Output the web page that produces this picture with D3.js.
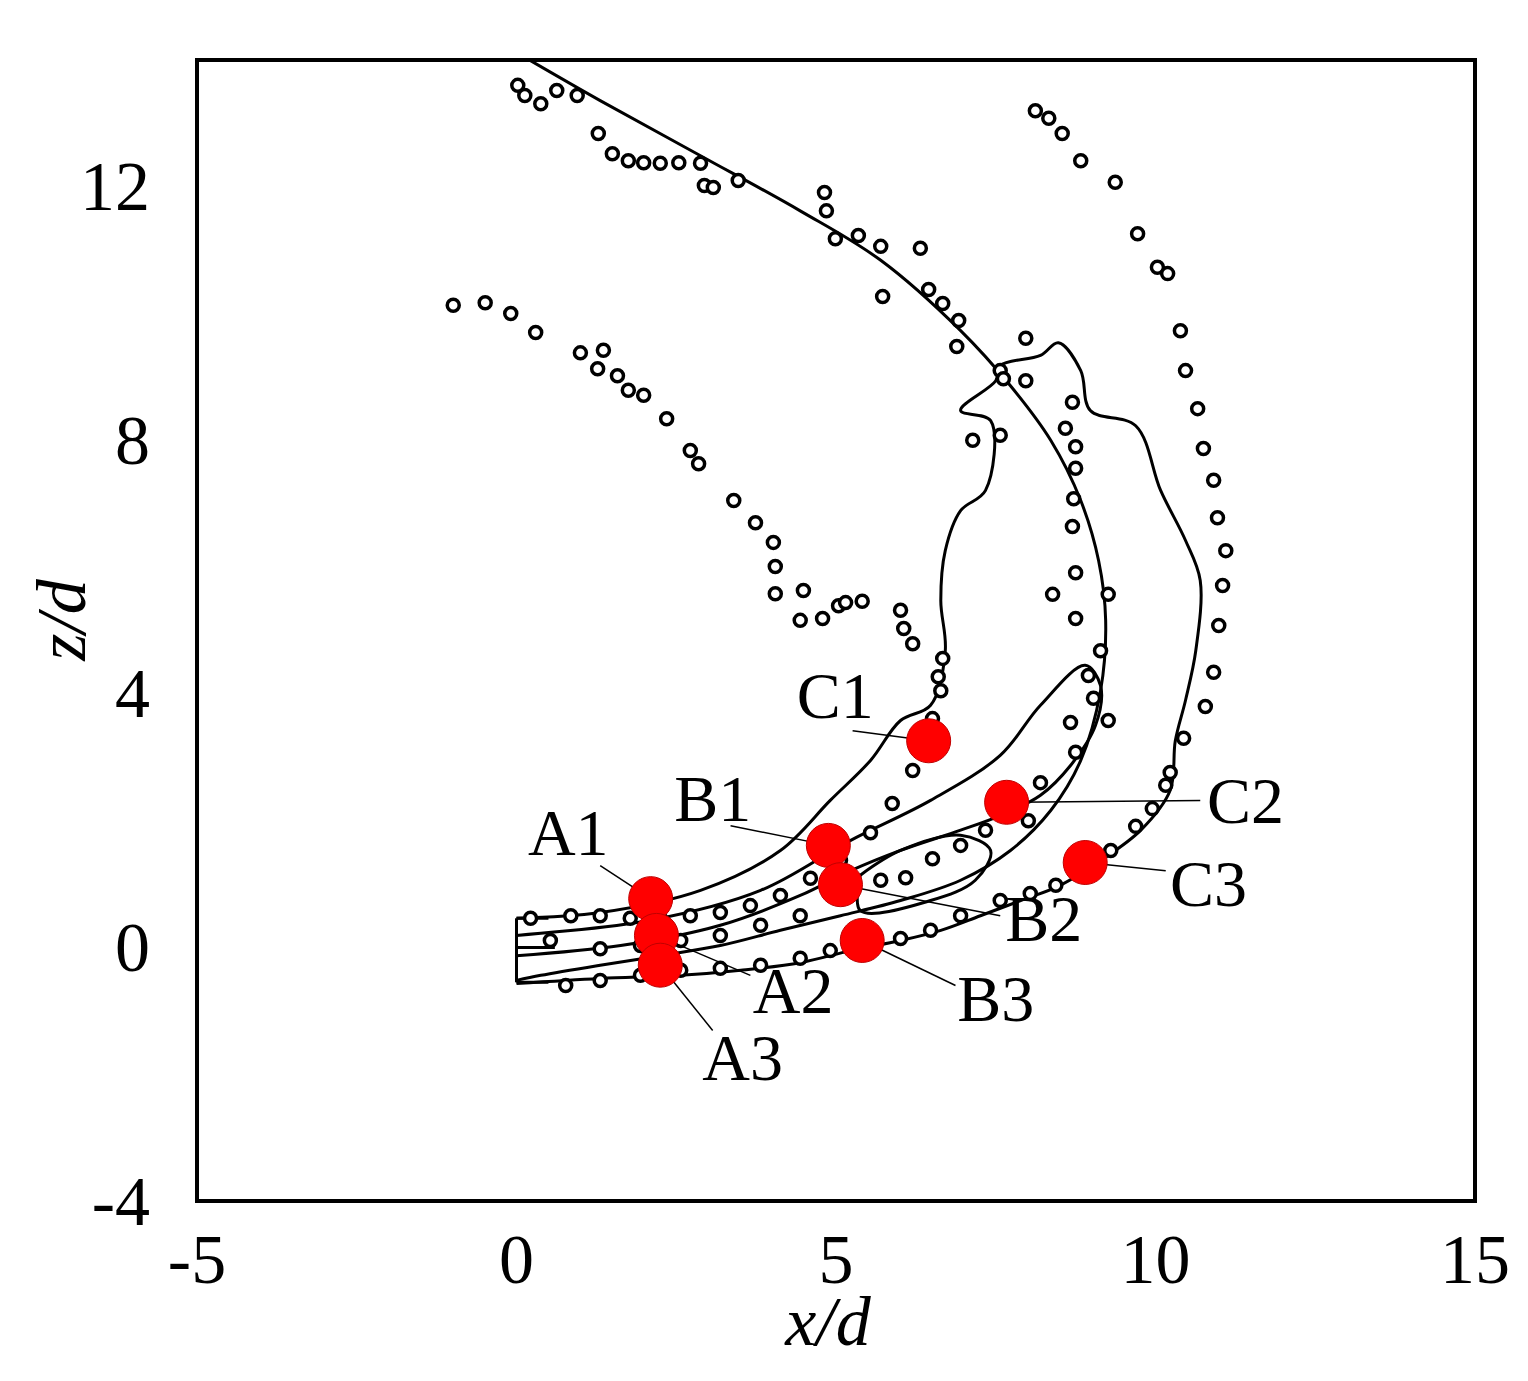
<!DOCTYPE html>
<html><head><meta charset="utf-8">
<script src="https://cdn.jsdelivr.net/npm/d3@7"></script>
<style>
body{margin:0;background:#fff;}
text{font-family:'Liberation Serif','Times New Roman',serif;fill:#000;}
</style></head>
<body><div id="vis"></div>
<script>
const xTicks = [-5, 0, 5, 10, 15];
const yTicks = [-4, 0, 4, 8, 12];

// measured points (open circles)
const scatterUpper = [[0.02,13.6],[0.13,13.44],[0.38,13.31],[0.63,13.52],[0.95,13.44],[1.28,12.84],[1.5,12.52],[1.75,12.41],[1.99,12.38],[2.25,12.37],[2.54,12.38],[2.88,12.37],[2.94,12.02],[3.08,11.99],[3.47,12.1],[4.82,11.91],[4.85,11.62],[4.99,11.18],[5.35,11.23],[5.7,11.06],[6.32,11.03],[5.73,10.27],[6.45,10.38],[6.67,10.16],[6.92,9.89],[6.89,9.48],[7.57,9.1],[7.62,8.97],[7.97,9.61],[7.97,8.94],[7.14,8.0],[7.57,8.08],[8.59,8.19],[8.7,8.6],[8.75,7.9],[8.75,7.56],[8.72,7.08],[8.7,6.64],[8.75,5.91],[8.75,5.19],[8.39,5.57],[9.26,5.57],[9.14,4.68],[8.95,4.29],[9.03,3.93],[9.26,3.58],[8.75,3.08],[8.67,3.55],[8.2,2.6],[8.01,2.0],[7.34,1.85],[6.95,1.61],[6.51,1.4],[6.09,1.1],[5.7,1.06],[5.07,0.82],[4.44,0.5],[3.82,0.35],[3.19,0.19],[2.57,0.11],[1.94,0.03],[1.31,-0.02],[0.53,0.11]];
const scatterLeft = [[-0.99,10.13],[-0.49,10.17],[-0.09,10.0],[0.3,9.7],[1.0,9.38],[1.36,9.42],[1.27,9.13],[1.58,9.02],[1.75,8.79],[1.99,8.71],[2.35,8.34],[2.72,7.84],[2.85,7.63],[3.4,7.05],[3.74,6.7],[4.02,6.39],[4.05,6.01],[4.05,5.58],[4.49,5.63],[4.44,5.16],[4.79,5.19],[5.04,5.39],[5.15,5.44],[5.41,5.46],[6.01,5.32],[6.06,5.03],[6.2,4.79],[6.67,4.56],[6.6,4.27],[6.64,4.05],[6.51,3.61],[6.29,3.23],[6.2,2.79],[5.88,2.27],[5.54,1.81],[5.07,1.37],[4.6,1.09],[4.13,0.82],[3.66,0.66],[3.19,0.55],[2.72,0.5],[2.25,0.46],[1.78,0.46],[1.31,0.5],[0.85,0.5],[0.22,0.46]];
const scatterRight = [[8.12,13.2],[8.33,13.08],[8.54,12.84],[8.83,12.41],[9.37,12.07],[9.72,11.26],[10.03,10.73],[10.19,10.63],[10.39,9.73],[10.47,9.1],[10.66,8.5],[10.75,7.87],[10.91,7.37],[10.97,6.78],[11.1,6.26],[11.05,5.71],[10.99,5.08],[10.91,4.34],[10.78,3.8],[10.44,3.3],[10.23,2.76],[10.16,2.56],[9.95,2.19],[9.69,1.91],[9.3,1.53],[8.83,1.21],[8.44,0.98],[8.04,0.85],[7.57,0.74],[6.95,0.5],[6.48,0.27],[6.01,0.14],[5.54,-0.02],[4.91,-0.05],[4.44,-0.17],[3.82,-0.28],[3.19,-0.33],[2.57,-0.36],[1.94,-0.44],[1.31,-0.52],[0.77,-0.6]];

// computed contours / trajectories (solid lines)
const lineArc = [[0.22,13.99],[1.31,13.36],[2.88,12.49],[4.44,11.62],[5.7,10.84],[6.95,9.73],[7.73,8.86],[8.36,8.0],[8.83,7.05],[9.11,6.1],[9.22,5.16],[9.14,4.05],[8.83,2.95],[8.36,2.16],[7.73,1.53],[6.95,1.06],[6.01,0.74],[5.07,0.5],[4.13,0.27],[3.19,0.03],[2.25,-0.13],[1.31,-0.28],[0.38,-0.44],[0,-0.52]];
const lineOuter = [[0,0.46],[1.31,0.55],[2.88,0.9],[4.13,1.53],[4.91,2.32],[5.54,2.95],[6.01,3.58],[6.48,3.82],[6.71,4.68],[6.64,5.47],[6.71,6.26],[6.95,6.89],[7.34,7.21],[7.42,8.31],[6.95,8.47],[7.5,8.94],[7.57,9.18],[8.2,9.34],[8.48,9.54],[8.83,9.1],[8.98,8.47],[9.69,8.23],[10.08,7.21],[10.47,6.42],[10.7,5.79],[10.63,4.68],[10.47,3.9],[10.31,3.26],[10.23,2.48],[9.77,1.85],[9.14,1.37],[8.51,0.98],[7.89,0.74],[7.26,0.5],[6.64,0.27],[6.01,0.11],[5.23,-0.05],[4.44,-0.24],[3.51,-0.36],[2.57,-0.44],[1.31,-0.49],[0,-0.57]];
const lineInner = [[0,0.19],[2.1,0.43],[3.82,0.9],[5.23,1.69],[6.48,2.32],[7.57,3.03],[8.2,3.82],[8.9,4.45],[9.14,4.13],[9.06,3.5],[8.67,2.87],[8.2,2.4],[7.57,2.08],[6.95,1.85],[6.01,1.53],[5.23,1.21],[4.44,0.82],[3.19,0.35],[1.63,0.03],[0,-0.13]];
const lineLoop = [[5.38,1.14],[6.01,1.53],[6.95,1.77],[7.42,1.53],[7.18,1.06],[6.48,0.74],[5.38,0.58],[5.38,1.14]];
const nozzle = [[[0,0.46],[0,-0.55]],[[0,0.0],[0.6,0.0]],[[0,0.46],[0.5,0.46]],[[0,-0.55],[0.5,-0.55]]];

// labelled points: name, point, label centre, leader end
const probeNames = ["A1","A2","A3","B1","B2","B3","C1","C2","C3"];
const probePts = [[2.1,0.77],[2.19,0.19],[2.25,-0.28],[4.88,1.61],[5.07,0.99],[5.41,0.11],[6.45,3.26],[7.67,2.29],[8.9,1.34]];
const probeLabels = [[0.81,1.81],[4.33,-0.68],[3.54,-1.73],[3.07,2.35],[8.25,0.46],[7.5,-0.8],[4.99,3.97],[11.41,2.32],[10.83,1.01]];
const probeLeaders = [[1.31,1.29],[3.66,-0.44],[3.07,-1.31],[3.35,1.92],[7.57,0.5],[6.87,-0.6],[5.26,3.42],[10.7,2.32],[10.16,1.21]];

const W = 1528, H = 1381;
const svg = d3.select("#vis").append("svg").attr("width", W).attr("height", H);
const x = d3.scaleLinear().domain([-5, 15]).range([197, 1475]);
const y = d3.scaleLinear().domain([-4, 14]).range([1201, 60]);

svg.append("defs").append("clipPath").attr("id", "clip")
    .append("rect").attr("x", 197).attr("y", 60).attr("width", 1278).attr("height", 1141);
const g = svg.append("g").attr("clip-path", "url(#clip)");

const line = d3.line().x(d => x(d[0])).y(d => y(d[1])).curve(d3.curveCatmullRom);
[lineArc, lineOuter, lineInner, lineLoop].forEach(l => {
    g.append("path").attr("d", line(l)).attr("fill", "none").attr("stroke", "#000").attr("stroke-width", 3);
});
nozzle.forEach(l => {
    g.append("path").attr("d", d3.line().x(d => x(d[0])).y(d => y(d[1]))(l))
        .attr("stroke", "#000").attr("stroke-width", 3);
});

[scatterUpper, scatterLeft, scatterRight].forEach(s => {
    g.selectAll(null).data(s).join("circle")
        .attr("cx", d => x(d[0])).attr("cy", d => y(d[1])).attr("r", 6)
        .attr("fill", "#fff").attr("stroke", "#000").attr("stroke-width", 3.5);
});

// leaders
g.selectAll(null).data(probePts).join("line")
    .attr("x1", d => x(d[0])).attr("y1", d => y(d[1]))
    .attr("x2", (d, i) => x(probeLeaders[i][0])).attr("y2", (d, i) => y(probeLeaders[i][1]))
    .attr("stroke", "#000").attr("stroke-width", 1.5);
g.selectAll(null).data(probePts).join("circle")
    .attr("cx", d => x(d[0])).attr("cy", d => y(d[1])).attr("r", 22)
    .attr("fill", "#ff0000").attr("stroke", "#c00000").attr("stroke-width", 1);
svg.selectAll(null).data(probeLabels).join("text")
    .attr("x", d => x(d[0])).attr("y", d => y(d[1]))
    .attr("text-anchor", "middle").attr("dominant-baseline", "central")
    .attr("font-size", 66).text((d, i) => probeNames[i]);

// frame
svg.append("rect").attr("x", 197).attr("y", 60).attr("width", 1278).attr("height", 1141)
    .attr("fill", "none").attr("stroke", "#000").attr("stroke-width", 4);

svg.selectAll(null).data(xTicks).join("text")
    .attr("x", d => x(d)).attr("y", 1283).attr("text-anchor", "middle")
    .attr("font-size", 70).text(d => d);
svg.selectAll(null).data(yTicks).join("text")
    .attr("x", 150).attr("y", d => y(d)).attr("text-anchor", "end")
    .attr("dominant-baseline", "central").attr("font-size", 70).text(d => d);

svg.append("text").attr("x", 828).attr("y", 1345).attr("text-anchor", "middle")
    .attr("font-size", 70).attr("font-style", "italic").text("x/d");
svg.append("text").attr("transform", "translate(85,620) rotate(-90)").attr("text-anchor", "middle")
    .attr("font-size", 70).attr("font-style", "italic").text("z/d");
</script></body></html>
